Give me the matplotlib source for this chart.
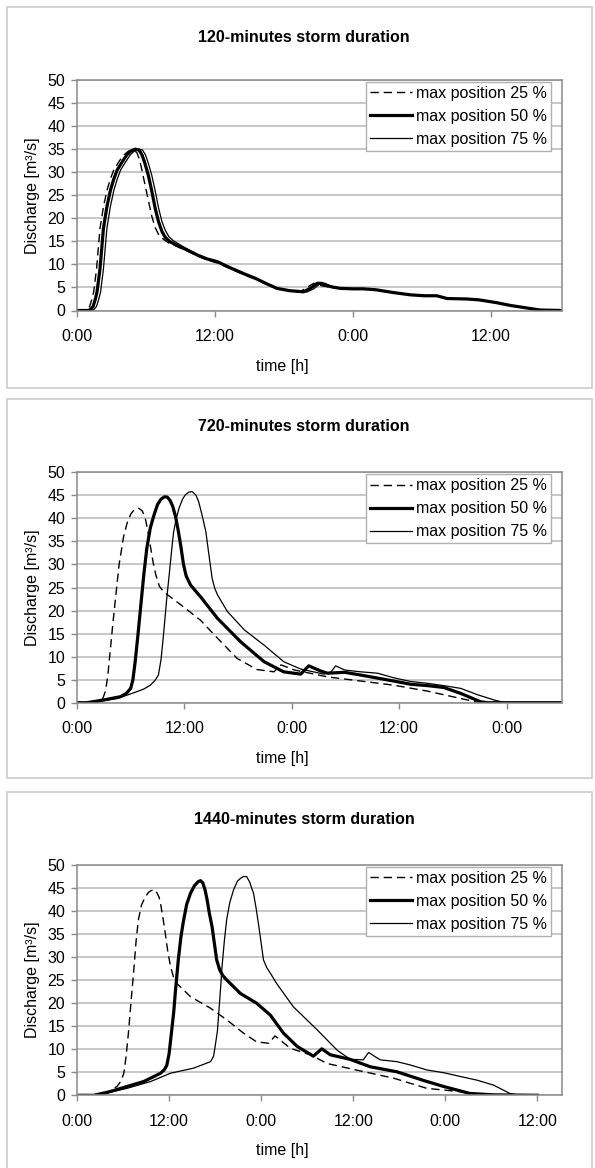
import matplotlib
matplotlib.use("Agg")
import matplotlib.pyplot as plt
from matplotlib.patches import Rectangle
from matplotlib.ticker import FixedLocator, FuncFormatter

plt.rcParams['font.family'] = ['Liberation Sans', 'DejaVu Sans']

# ---------------- data (hours, m3/s) ----------------
titles = ["120-minutes storm duration", "720-minutes storm duration", "1440-minutes storm duration"]
labels = ["max position 25 %", "max position 50 %", "max position 75 %"]
x_max = [42.2, 54.2, 63.2]

# panel 1 (120 min) -- common recession tail
p1_tail_t = [22.9, 24.0, 24.9, 26.0, 27.5, 29.0, 30.2, 31.3, 32.2, 33.9, 35.0, 36.5, 37.7, 39.0, 40.3, 42.2]
p1_tail_v = [4.8, 4.7, 4.7, 4.5, 3.9, 3.4, 3.2, 3.2, 2.6, 2.5, 2.3, 1.7, 1.1, 0.6, 0.1, 0.0]

p1_t25 = [0, 0.7, 0.9, 1.1, 1.3, 1.45, 1.7, 2.0, 2.3, 2.6, 2.9, 3.2, 3.7, 4.1, 4.5, 4.9, 5.2, 5.4, 5.6, 5.9,
          6.2, 6.5, 6.8, 7.1, 7.5, 8.0, 8.8, 9.6, 10.5, 11.3, 12.2, 13.3, 14.5, 15.5, 16.5, 17.4,
          18.5, 19.4, 20.0, 20.6, 21.0, 21.4, 22.2]
p1_v25 = [0, 0, 0.3, 0.9, 2.5, 4.0, 9.0, 17.8, 22.5, 26.0, 28.5, 30.5, 32.5, 33.8, 34.6, 34.8, 34.3, 33.0, 31.0, 27.5,
          24.0, 20.5, 18.0, 16.5, 15.5, 14.6, 13.8, 12.9, 11.8, 11.0, 10.3, 9.1, 7.8, 6.8, 5.7, 4.8,
          4.3, 4.05, 5.0, 5.9, 5.6, 5.3, 5.0]

p1_t50 = [0, 1.0, 1.2, 1.4, 1.6, 1.74, 2.0, 2.3, 2.6, 2.9, 3.2, 3.5, 4.0, 4.35, 4.7, 5.07, 5.4, 5.65, 5.9, 6.2,
          6.5, 6.8, 7.1, 7.4, 7.7, 8.1, 8.8, 9.6, 10.5, 11.3, 12.2, 13.3, 14.5, 15.5, 16.5, 17.4,
          18.5, 19.7, 20.3, 20.9, 21.3, 21.6, 22.2]
p1_v50 = [0, 0, 0.3, 0.9, 2.5, 4.0, 9.0, 17.8, 22.5, 26.0, 28.5, 30.5, 32.5, 33.8, 34.6, 35.0, 34.8, 33.8, 32.0, 29.4,
          26.0, 22.2, 19.2, 17.1, 15.8, 14.9, 14.0, 13.1, 12.0, 11.2, 10.6, 9.3, 8.0, 7.0, 5.8, 4.8,
          4.3, 4.05, 4.8, 5.9, 5.9, 5.5, 5.1]

p1_t75 = [0, 1.3, 1.5, 1.7, 1.9, 2.05, 2.3, 2.6, 2.9, 3.2, 3.5, 3.8, 4.3, 4.65, 5.0, 5.35, 5.7, 5.95, 6.2, 6.5,
          6.8, 7.1, 7.4, 7.7, 8.0, 8.4, 9.0, 9.7, 10.5, 11.3, 12.2, 13.3, 14.5, 15.5, 16.5, 17.4,
          18.5, 20.0, 20.6, 21.2, 21.6, 21.9, 22.4]
p1_v75 = [0, 0, 0.3, 0.9, 2.5, 4.0, 9.0, 17.8, 22.5, 26.0, 28.5, 30.5, 32.5, 33.8, 34.6, 35.0, 34.8, 33.8, 32.0, 29.4,
          26.0, 22.2, 19.2, 17.3, 16.0, 15.1, 14.2, 13.2, 12.1, 11.3, 10.7, 9.4, 8.1, 7.0, 5.8, 4.8,
          4.3, 4.0, 4.7, 5.9, 5.9, 5.5, 5.1]

# panel 2 (720 min)
p2_t25 = [0, 2.2, 2.6, 2.9, 3.2, 3.45, 3.7, 4.0, 4.3, 4.7, 5.2, 5.6, 6.0, 6.4, 6.9, 7.3, 7.6, 7.9, 8.2,
          8.5, 8.8, 9.2, 9.7, 10.4, 11.9, 13.8, 15.7, 17.9, 20.1, 22.0, 22.8, 24.3, 28.0, 31.7, 35.4,
          39.2, 42.9, 45.1, 54.2]
p2_v25 = [0, 0, 0.3, 1.0, 2.6, 6.0, 11.0, 17.0, 22.6, 29.9, 36.0, 39.0, 40.9, 41.9, 42.2, 41.6, 40.3, 37.5, 34.0,
          30.5, 27.8, 25.3, 24.0, 23.0, 20.8, 17.9, 14.0, 9.6, 7.2, 6.7, 8.2, 7.1, 5.6, 4.7, 3.8,
          2.5, 0.9, 0, 0]

p2_t50 = [0, 1.1, 3.0, 4.85, 5.5, 6.0, 6.25, 6.5, 6.8, 7.1, 7.45, 7.8, 8.2, 8.6, 9.0, 9.4, 9.8, 10.1,
          10.4, 10.7, 11.0, 11.3, 11.6, 11.9, 12.2, 12.7, 13.8, 15.7, 18.3, 20.9, 23.1, 25.0, 25.9, 27.2,
          28.0, 29.9, 31.7, 35.4, 37.3, 39.2, 41.0, 42.9, 45.1, 45.9, 54.2]
p2_v50 = [0, 0, 0.6, 1.3, 2.0, 3.1, 5.0, 8.9, 14.5, 20.5, 27.5, 33.5, 38.0, 40.7, 43.0, 44.2, 44.7, 44.6,
          43.9, 42.6, 40.5, 37.5, 34.0, 30.0, 27.5, 25.5, 23.0, 18.3, 13.2, 8.9, 6.7, 6.2, 8.0, 6.9,
          6.4, 6.6, 6.0, 4.7, 4.0, 3.7, 3.3, 2.0, 0.2, 0, 0]

p2_t75 = [0, 1.5, 4.5, 6.7, 7.5, 8.2, 8.7, 9.1, 9.4, 9.7, 10.0, 10.3, 10.6, 10.8, 11.1, 11.4, 11.8, 12.1,
          12.5, 12.9, 13.3, 13.6, 14.0, 14.4, 14.75, 15.1, 15.4, 15.7, 16.8, 18.7, 20.9, 23.1, 25.0, 27.6,
          28.4, 28.9, 29.9, 31.7, 33.6, 35.4, 37.3, 39.2, 41.0, 42.9, 44.8, 46.6, 47.8, 54.2]
p2_v75 = [0, 0, 0.9, 2.4, 3.0, 3.8, 4.8, 6.0, 9.5, 15.4, 22.0, 27.7, 33.5, 37.1, 40.0, 42.2, 44.2, 45.1,
          45.7, 45.8, 45.0, 43.6, 40.5, 37.1, 32.0, 27.0, 24.8, 23.4, 19.8, 15.8, 12.5, 8.9, 7.3, 6.2,
          6.7, 8.0, 7.1, 6.7, 6.4, 5.4, 4.6, 4.2, 3.7, 3.1, 1.7, 0.6, 0, 0]

# panel 3 (1440 min)
p3_t25 = [0, 2.6, 3.9, 5.2, 5.7, 6.1, 6.4, 6.7, 7.05, 7.4, 7.7, 8.0, 8.4, 8.9, 9.4, 10.0, 10.4, 10.7,
          10.95, 11.2, 11.5, 11.85, 12.2, 12.6, 13.0, 14.8, 17.4, 19.5, 21.7, 23.4, 25.0, 25.8, 27.8,
          30.4, 32.6, 36.9, 41.3, 45.6, 49.9, 52.1, 54.3, 60.0]
p3_v25 = [0, 0, 0.4, 1.9, 3.0, 4.8, 8.5, 13.5, 20.5, 27.2, 33.5, 38.1, 41.3, 43.1, 44.2, 44.7, 44.0, 43.0,
          41.0, 38.5, 35.2, 31.0, 27.9, 25.5, 24.3, 21.4, 18.9, 16.4, 13.5, 11.6, 11.3, 12.9, 10.2,
          8.8, 6.9, 5.3, 3.7, 1.5, 0.8, 0.2, 0, 0]

p3_t50 = [0, 2.2, 4.3, 6.5, 8.7, 10.9, 11.4, 11.7, 12.0, 12.3, 12.6, 12.8, 13.2, 13.55, 13.9, 14.3, 14.8,
          15.3, 15.8, 16.1, 16.4, 16.7, 16.95, 17.25, 17.6, 17.9, 18.2, 18.6, 19.0, 19.3, 21.3, 23.4,
          25.2, 26.9, 28.7, 30.8, 31.9, 33.0, 35.6, 38.2, 41.7, 45.2, 47.8, 51.2, 54.3, 60.0]
p3_v50 = [0, 0, 0.8, 1.9, 3.0, 4.8, 5.6, 6.5, 9.0, 13.5, 18.0, 22.1, 29.4, 34.5, 38.1, 41.5, 43.9,
          45.5, 46.4, 46.6, 46.1, 44.5, 42.5, 39.5, 36.6, 33.0, 29.4, 27.2, 26.0, 25.4, 22.1, 20.0,
          17.4, 13.5, 10.6, 8.5, 10.1, 8.8, 7.8, 6.2, 5.1, 3.2, 1.9, 0.4, 0.1, 0]

p3_t75 = [0, 2.6, 6.5, 9.6, 12.2, 15.2, 17.4, 17.8, 18.0, 18.3, 18.5, 18.7, 18.9, 19.2, 19.5, 19.9, 20.4,
          20.9, 21.3, 21.7, 22.1, 22.5, 22.8, 23.0, 23.35, 23.7, 24.0, 24.3, 24.7, 25.2, 26.0, 28.2,
          31.3, 33.9, 35.6, 37.3, 38.0, 39.5, 41.7, 43.4, 45.6, 47.8, 49.9, 52.1, 54.3, 56.4, 57.7, 60.0]
p3_v75 = [0, 0, 1.5, 3.0, 4.8, 5.9, 7.3, 8.5, 10.6, 14.0, 18.5, 23.0, 27.9, 33.5, 38.1, 41.8, 44.6,
          46.5, 47.1, 47.5, 47.5, 46.3, 44.8, 43.9, 40.5, 36.6, 33.0, 29.4, 27.8, 26.5, 24.3, 19.2,
          14.2, 9.8, 7.8, 7.7, 9.3, 7.7, 7.3, 6.6, 5.5, 4.9, 4.1, 3.3, 2.2, 0.4, 0, 0]

panels = [
    [(p1_t25 + p1_tail_t, p1_v25 + p1_tail_v),
     (p1_t50 + p1_tail_t, p1_v50 + p1_tail_v),
     (p1_t75 + p1_tail_t, p1_v75 + p1_tail_v)],
    [(p2_t25, p2_v25), (p2_t50, p2_v50), (p2_t75, p2_v75)],
    [(p3_t25, p3_v25), (p3_t50, p3_v50), (p3_t75, p3_v75)],
]

# ---------------- layout ----------------
W, H = 595, 1168
DPI = 100
fig = plt.figure(figsize=(W / DPI, H / DPI), dpi=DPI)
fig.patch.set_facecolor('white')

FS = 11.5
axis_top_px = [80.0, 472.3, 865.0]
axis_bot_px = [310.5, 702.7, 1095.3]
title_px = [37.5, 426.5, 819.5]
frame_px = [(7, 388), (399, 778), (792, 1180)]
left_px, right_px = 77.0, 562.0

styles = [dict(color='black', lw=1.0, dashes=(6, 3.5)),
          dict(color='black', lw=2.3),
          dict(color='black', lw=0.9)]

grid_c = '#b8b8b8'
spine_c = '#8a8a8a'

for i in range(3):
    top, bot = axis_top_px[i], axis_bot_px[i]
    ax = fig.add_axes([left_px / W, 1 - bot / H, (right_px - left_px) / W, (bot - top) / H])

    # outer frame
    f0, f1 = frame_px[i]
    fig.patches.append(Rectangle((7 / W, 1 - f1 / H), 585 / W, (f1 - f0) / H,
                                 transform=fig.transFigure, fill=False,
                                 edgecolor='#cccccc', lw=1.2, zorder=0))

    for (t, v), lab, st in zip(panels[i], labels, styles):
        ax.plot(t, v, label=lab, solid_joinstyle='round', dash_joinstyle='round', **st)

    ax.set_xlim(0, x_max[i])
    ax.set_ylim(0, 50)
    ax.yaxis.set_major_locator(FixedLocator(list(range(0, 51, 5))))
    xt = [h for h in range(0, int(x_max[i]) + 1, 12)]
    ax.xaxis.set_major_locator(FixedLocator(xt))
    ax.xaxis.set_major_formatter(FuncFormatter(lambda x, p: "%d:00" % (int(round(x)) % 24)))
    ax.yaxis.grid(True, color=grid_c, lw=1.1)
    ax.set_axisbelow(True)
    for s in ax.spines.values():
        s.set_color(spine_c)
        s.set_linewidth(1.1)
    ax.tick_params(axis='both', direction='out', length=4, width=1.0, color=spine_c,
                   labelsize=FS, labelcolor='black')
    ax.tick_params(axis='x', pad=9.5)
    ax.tick_params(axis='y', pad=4.5)

    leg = ax.legend(loc='upper right', bbox_to_anchor=(0.977, 0.991), borderaxespad=0,
                    frameon=True, fancybox=False, framealpha=1, edgecolor='#b0b0b0',
                    fontsize=FS, handlelength=2.6, handletextpad=0.25,
                    labelspacing=0.5, borderpad=0.25)
    leg.get_frame().set_linewidth(1.0)

    fig.text(304 / W, 1 - title_px[i] / H, titles[i], ha='center', va='center',
             fontsize=FS, fontweight='bold')
    fig.text(33 / W, 1 - (top + bot) / 2 / H, "Discharge [m³/s]", rotation=90,
             ha='center', va='center', fontsize=FS)
    fig.text(282 / W, 1 - (bot + 55.5) / H, "time [h]", ha='center', va='center', fontsize=FS)

fig.savefig("out.png", dpi=DPI, facecolor='white')
